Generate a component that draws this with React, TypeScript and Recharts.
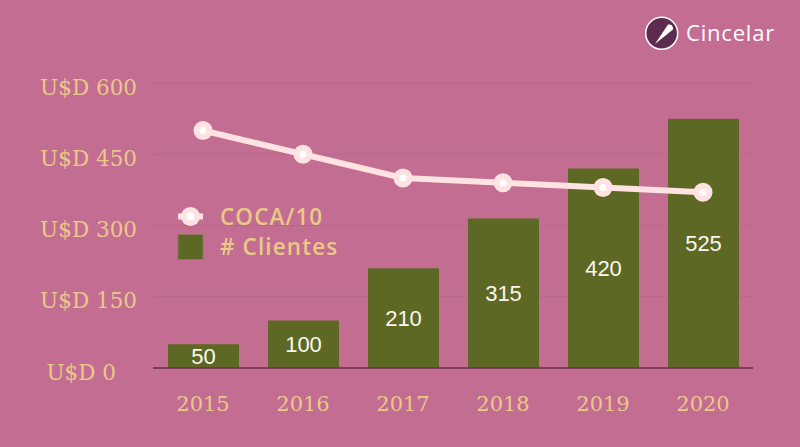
import React from 'react';
import { ComposedChart, Bar, Line, XAxis, YAxis, CartesianGrid, LabelList } from 'recharts';

const years = ['2015', '2016', '2017', '2018', '2019', '2020'];
const clientes = [50, 100, 210, 315, 420, 525];
const coca10 = [500, 450, 400, 390, 380, 370];
const yTicks = [0, 150, 300, 450, 600];
const legendLabels = ['COCA/10', '# Clientes'];
const brand = 'Cincelar';

const data = years.map((y, i) => ({ year: y, clientes: clientes[i], coca: coca10[i] }));

const BG = '#c46d92';
const OLIVE = '#5d6824';
const GOLD = '#e8c987';
const LINE = '#ffe2e2';
const SERIF = '"DejaVu Serif", serif';
const SANS = '"Open Sans", "Noto Sans", sans-serif';

const XTick = (props: any) => {
  const { x, y, payload } = props;
  return (
    <text x={x} y={y + 43} textAnchor="middle" fill={GOLD} fontSize={21} fontFamily={SERIF}>
      {payload.value}
    </text>
  );
};

const YTick = (props: any) => {
  const { y, payload } = props;
  const endX = payload.value === 0 ? 116 : 137;
  return (
    <text x={endX} y={y + 11.5} textAnchor="end" fill={GOLD} fontSize={21.5} fontFamily={SERIF}>
      {`U$D ${payload.value}`}
    </text>
  );
};

const Dot = (props: any) => {
  const { cx, cy, index } = props;
  if (cx == null || cy == null) return null;
  return (
    <g key={`dot-${index}`}>
      <circle cx={cx} cy={cy} r={9.5} fill={LINE} />
      <circle cx={cx} cy={cy} r={3.5} fill="#ffffff" />
    </g>
  );
};

export default function App() {
  return (
    <div style={{ position: 'absolute', left: 0, top: 0, width: 800, height: 447, background: BG, overflow: 'hidden' }}>
      <ComposedChart
        width={800}
        height={447}
        data={data}
        margin={{ top: 83, right: 47, bottom: 49, left: 0 }}
      >
        <CartesianGrid horizontal vertical={false} stroke="#b5688a" strokeWidth={1} />
        <XAxis
          dataKey="year"
          height={30}
          tickLine={false}
          tickSize={0}
          tickMargin={0}
          axisLine={{ stroke: '#6e2d4c', strokeWidth: 1.5 }}
          tick={<XTick />}
          interval={0}
        />
        <YAxis
          width={153}
          domain={[0, 600]}
          ticks={yTicks}
          axisLine={false}
          tickLine={false}
          tickSize={0}
          tickMargin={0}
          tick={<YTick />}
          interval={0}
        />
        <Bar dataKey="clientes" fill={OLIVE} barSize={71} isAnimationActive={false}>
          <LabelList
            dataKey="clientes"
            position="center"
            fill="#fbf6ee"
            fontSize={22}
            fontFamily='"Liberation Sans", Arial, sans-serif'
          />
        </Bar>
        <Line
          dataKey="coca"
          type="linear"
          stroke={LINE}
          strokeWidth={6}
          dot={<Dot />}
          activeDot={false}
          isAnimationActive={false}
        />
      </ComposedChart>
      <svg
        width={800}
        height={447}
        style={{ position: 'absolute', left: 0, top: 0, pointerEvents: 'none' }}
      >
        {/* legend */}
        <line x1={178} y1={216.5} x2={203} y2={216.5} stroke={LINE} strokeWidth={6} />
        <circle cx={190.5} cy={216.5} r={9.5} fill={LINE} />
        <circle cx={190.5} cy={216.5} r={4} fill="#ffffff" />
        <rect x={178} y={234.5} width={25} height={25} fill={OLIVE} stroke="#8d7a5a" strokeWidth={1} />
        <text x={220} y={225} fill={GOLD} fontSize={22.5} fontWeight={600} fontFamily={SANS} letterSpacing={1.1}>
          {legendLabels[0]}
        </text>
        <text x={220} y={255} fill={GOLD} fontSize={22.5} fontWeight={600} fontFamily={SANS} letterSpacing={1.1}>
          {legendLabels[1]}
        </text>
        {/* logo */}
        <circle cx={661.7} cy={33.3} r={16} fill="#5b2c4f" stroke="#ffffff" strokeWidth={1.5} />
        <path d="M 655 44 L 668 24.5 Q 673.5 24 673 29.5 Z" fill="#ffffff" />
        <text x={686} y={41} fill="#ffffff" fontSize={22} fontFamily={SANS} letterSpacing={0.8}>
          {brand}
        </text>
      </svg>
    </div>
  );
}
